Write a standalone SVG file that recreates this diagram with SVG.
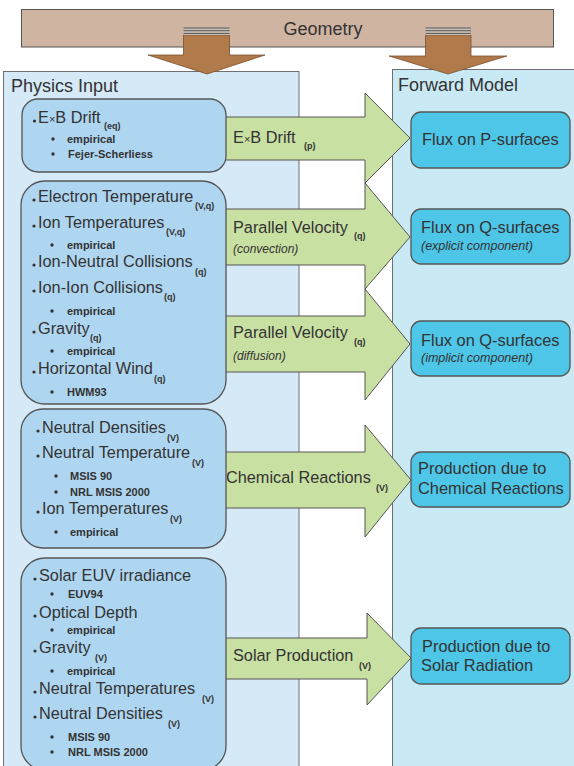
<svg xmlns="http://www.w3.org/2000/svg" width="574" height="766" viewBox="0 0 574 766">
<defs>
<style>
text{font-family:"Liberation Sans",Arial,Helvetica,sans-serif;fill:#333;}
.title{font-size:18px;}
.item{font-size:16.3px;}
.sub{font-size:11px;font-weight:bold;}
.idx{font-size:9px;font-weight:bold;}
.lbl{font-size:16.3px;}
.it{font-size:12px;font-style:italic;}
.out{font-size:16.4px;}
.outit{font-size:12.5px;font-style:italic;}
.panelL{fill:#d5e9f7;stroke:#6f6f6f;stroke-width:1;}
.panelR{fill:#c9e9f4;stroke:#6f6f6f;stroke-width:1;}
.inbox{fill:#afd6f1;stroke:#555;stroke-width:1.3;}
.outbox{fill:#4ec6e7;stroke:#555;stroke-width:1.3;}
.garrow{fill:#c9e0a3;stroke:#555;stroke-width:1;}
.barrow{fill:#b07a4b;stroke:#7a5230;stroke-width:0.8;}
.stripe{stroke:#555;stroke-width:1;}
.b1{fill:#333;}
</style>
</defs>

<g id="panels">
<rect class="panelL" x="3.5" y="71.5" width="295.5" height="700"/>
<rect class="panelR" x="392.5" y="69.5" width="190" height="702"/>
<text class="title" x="11" y="92">Physics Input</text>
<text class="title" x="398" y="91">Forward Model</text>
</g>

<g id="geometry">
<rect x="21.5" y="9.5" width="532" height="37.5" fill="#cfb4a1" stroke="#555" stroke-width="1"/>
<text class="title" x="323" y="35" text-anchor="middle">Geometry</text>
</g>

<g id="connectors">
<g id="geo-left">
<path class="barrow" d="M183.5,35 L229.5,35 L229.5,55 L265,55 L207,74 L148,55 L183.5,55 Z"/>
<rect x="183.5" y="27" width="46" height="8" fill="#c9c0b8"/>
<line class="stripe" x1="183.5" y1="28" x2="229.5" y2="28"/>
<line class="stripe" x1="183.5" y1="30.7" x2="229.5" y2="30.7"/>
<line class="stripe" x1="183.5" y1="33.4" x2="229.5" y2="33.4"/>
</g>
<g id="geo-right">
<path class="barrow" d="M425.5,35 L471,35 L471,56 L507,56 L448,74 L389,56 L425.5,56 Z"/>
<rect x="425.5" y="27" width="45.5" height="8" fill="#c9c0b8"/>
<line class="stripe" x1="425.5" y1="28" x2="471" y2="28"/>
<line class="stripe" x1="425.5" y1="30.7" x2="471" y2="30.7"/>
<line class="stripe" x1="425.5" y1="33.4" x2="471" y2="33.4"/>
</g>
<path class="garrow" d="M215,117 L365,117 L365,93 L410,138 L365,183 L365,160 L215,160 Z"/>
<path class="garrow" d="M215,209 L365,209 L365,183 L410,237 L365,289 L365,265 L215,265 Z"/>
<path class="garrow" d="M215,316 L365,316 L365,289 L410,344 L365,400 L365,372 L215,372 Z"/>
<path class="garrow" d="M215,452 L365,452 L365,425 L411,480 L365,537 L365,508 L215,508 Z"/>
<path class="garrow" d="M215,638 L367,638 L367,613 L411,658 L367,705 L367,679 L215,679 Z"/>
<text class="lbl" x="233" y="143">E<tspan font-size="11">×</tspan>B Drift <tspan class="idx" x="304" y="149">(p)</tspan></text>
<text class="lbl" x="233" y="233">Parallel Velocity <tspan class="idx" x="354" y="239">(q)</tspan></text>
<text class="it" x="233" y="253">(convection)</text>
<text class="lbl" x="233" y="338">Parallel Velocity <tspan class="idx" x="354" y="345">(q)</tspan></text>
<text class="it" x="233" y="360">(diffusion)</text>
<text class="lbl" x="226" y="483">Chemical Reactions <tspan class="idx" x="376" y="491">(V)</tspan></text>
<text class="lbl" x="233" y="661">Solar Production <tspan class="idx" x="359" y="669">(V)</tspan></text>
</g>

<g id="in-exb">
<rect class="inbox" x="22" y="99" width="204" height="73" rx="16"/>
<circle class="b1" cx="34.5" cy="121" r="1.6"/>
<text class="item" x="38" y="123">E<tspan font-size="11">×</tspan>B Drift<tspan class="idx" x="104" y="129">(eq)</tspan></text>
<circle class="b1" cx="53" cy="139" r="1.7"/>
<text class="sub" x="67" y="143">empirical</text>
<circle class="b1" cx="53" cy="154" r="1.7"/>
<text class="sub" x="68" y="158">Fejer-Scherliess</text>
</g>

<g id="in-transport">
<rect class="inbox" x="21" y="181" width="205" height="223" rx="24"/>
<circle class="b1" cx="34" cy="200" r="1.6"/>
<text class="item" x="38" y="202">Electron Temperature<tspan class="idx" x="195" y="209">(V,q)</tspan></text>
<circle class="b1" cx="34" cy="226" r="1.6"/>
<text class="item" x="38" y="228">Ion Temperatures<tspan class="idx" x="166" y="235">(V,q)</tspan></text>
<circle class="b1" cx="52" cy="245" r="1.7"/>
<text class="sub" x="67" y="249">empirical</text>
<circle class="b1" cx="34" cy="265" r="1.6"/>
<text class="item" x="38" y="267">Ion-Neutral Collisions<tspan class="idx" x="195" y="275">(q)</tspan></text>
<circle class="b1" cx="34" cy="291" r="1.6"/>
<text class="item" x="38" y="293">Ion-Ion Collisions<tspan class="idx" x="164" y="300">(q)</tspan></text>
<circle class="b1" cx="52" cy="311" r="1.7"/>
<text class="sub" x="67" y="315">empirical</text>
<circle class="b1" cx="34" cy="332" r="1.6"/>
<text class="item" x="38" y="334">Gravity<tspan class="idx" x="90" y="341">(q)</tspan></text>
<circle class="b1" cx="52" cy="351" r="1.7"/>
<text class="sub" x="67" y="355">empirical</text>
<circle class="b1" cx="34" cy="372" r="1.6"/>
<text class="item" x="38" y="374">Horizontal Wind<tspan class="idx" x="154" y="382">(q)</tspan></text>
<circle class="b1" cx="52" cy="392" r="1.7"/>
<text class="sub" x="67" y="396">HWM93</text>
</g>

<g id="in-chem">
<rect class="inbox" x="21" y="409" width="205" height="139" rx="22"/>
<circle class="b1" cx="38" cy="431" r="1.6"/>
<text class="item" x="42" y="433">Neutral Densities<tspan class="idx" x="167" y="441">(V)</tspan></text>
<circle class="b1" cx="38" cy="456" r="1.6"/>
<text class="item" x="42" y="458">Neutral Temperature<tspan class="idx" x="192" y="466">(V)</tspan></text>
<circle class="b1" cx="56" cy="476" r="1.7"/>
<text class="sub" x="70" y="480">MSIS 90</text>
<circle class="b1" cx="56" cy="492" r="1.7"/>
<text class="sub" x="70" y="496">NRL MSIS 2000</text>
<circle class="b1" cx="38" cy="512" r="1.6"/>
<text class="item" x="42" y="514">Ion Temperatures<tspan class="idx" x="170" y="522">(V)</tspan></text>
<circle class="b1" cx="56" cy="532" r="1.7"/>
<text class="sub" x="70" y="536">empirical</text>
</g>

<g id="in-solar">
<rect class="inbox" x="21" y="558" width="205" height="212" rx="24"/>
<circle class="b1" cx="35" cy="579" r="1.6"/>
<text class="item" x="39" y="581">Solar EUV irradiance</text>
<circle class="b1" cx="52" cy="594" r="1.7"/>
<text class="sub" x="68" y="598">EUV94</text>
<circle class="b1" cx="35" cy="616" r="1.6"/>
<text class="item" x="39" y="618">Optical Depth</text>
<circle class="b1" cx="52" cy="630" r="1.7"/>
<text class="sub" x="67" y="634">empirical</text>
<circle class="b1" cx="35" cy="651" r="1.6"/>
<text class="item" x="39" y="653">Gravity <tspan class="idx" x="95" y="661">(V)</tspan></text>
<circle class="b1" cx="52" cy="671" r="1.7"/>
<text class="sub" x="67" y="675">empirical</text>
<circle class="b1" cx="35" cy="692" r="1.6"/>
<text class="item" x="39" y="694">Neutral Temperatures <tspan class="idx" x="202" y="702">(V)</tspan></text>
<circle class="b1" cx="35" cy="717" r="1.6"/>
<text class="item" x="39" y="719">Neutral Densities <tspan class="idx" x="168" y="727">(V)</tspan></text>
<circle class="b1" cx="52" cy="737" r="1.7"/>
<text class="sub" x="68" y="741">MSIS 90</text>
<circle class="b1" cx="52" cy="752" r="1.7"/>
<text class="sub" x="68" y="756">NRL MSIS 2000</text>
</g>

<g id="out-p">
<rect class="outbox" x="411" y="112" width="159" height="56" rx="10"/>
<text class="out" x="422" y="145">Flux on P-surfaces</text>
</g>
<g id="out-q1">
<rect class="outbox" x="411" y="209" width="159" height="55" rx="10"/>
<text class="out" x="421" y="233">Flux on Q-surfaces</text>
<text class="outit" x="421" y="250">(explicit component)</text>
</g>
<g id="out-q2">
<rect class="outbox" x="411" y="321" width="159" height="55" rx="10"/>
<text class="out" x="421" y="346">Flux on Q-surfaces</text>
<text class="outit" x="421" y="362">(implicit component)</text>
</g>
<g id="out-chem">
<rect class="outbox" x="411" y="452" width="159" height="55" rx="10"/>
<text class="out" x="418" y="474">Production due to</text>
<text class="out" x="418" y="494">Chemical Reactions</text>
</g>
<g id="out-solar">
<rect class="outbox" x="411" y="628" width="159" height="56" rx="10"/>
<text class="out" x="422" y="652">Production due to</text>
<text class="out" x="421" y="671">Solar Radiation</text>
</g>
</svg>
